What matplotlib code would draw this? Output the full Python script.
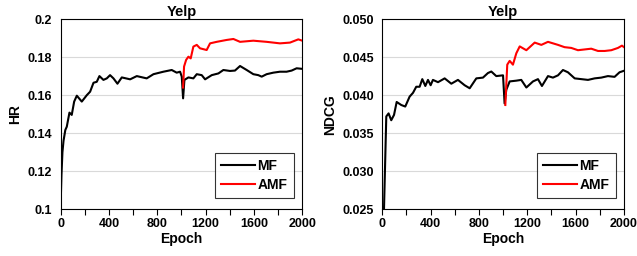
import matplotlib
matplotlib.use("Agg")
import matplotlib.pyplot as plt
from matplotlib.ticker import MultipleLocator

FONT = ['Liberation Sans', 'DejaVu Sans']
plt.rcParams['font.family'] = FONT
plt.rcParams['font.weight'] = 'bold'

# ---------------- data ----------------
hr_mf_epoch = [0, 8, 16, 25, 40, 52, 74, 93, 113, 135, 176, 218, 245, 273, 300, 322, 355, 383,
               410, 438, 471, 507, 576, 631, 713, 769, 851, 920, 961, 989, 1003, 1014, 1025,
               1058, 1099, 1127, 1168, 1196, 1251, 1306, 1347, 1402, 1443, 1485, 1540, 1595,
               1636, 1664, 1705, 1760, 1815, 1870, 1912, 1953, 2000]
hr_mf = [0.100, 0.118, 0.130, 0.136, 0.1417, 0.1434, 0.1508, 0.1496, 0.1566, 0.1597, 0.1566,
         0.1600, 0.1618, 0.1665, 0.1670, 0.1700, 0.1680, 0.1688, 0.1705, 0.1688, 0.1660,
         0.1693, 0.1683, 0.1700, 0.1688, 0.1710, 0.1723, 0.1732, 0.1718, 0.1723, 0.1697,
         0.1583, 0.1680, 0.1693, 0.1688, 0.1710, 0.1705, 0.1683, 0.1705, 0.1714, 0.1732,
         0.1727, 0.1729, 0.1753, 0.1732, 0.1710, 0.1705, 0.1697, 0.1710, 0.1718, 0.1723,
         0.1723, 0.1729, 0.1741, 0.1738]

hr_amf_epoch = [1014, 1022, 1039, 1058, 1077, 1099, 1127, 1154, 1209, 1237, 1292, 1375, 1430,
                1485, 1595, 1705, 1815, 1898, 1967, 2000]
hr_amf = [0.1640, 0.1750, 0.1785, 0.1802, 0.1793, 0.1855, 0.1864, 0.1846, 0.1837, 0.1872,
          0.1880, 0.1890, 0.1895, 0.1880, 0.1886, 0.1880, 0.1872, 0.1876, 0.1893, 0.1886]

nd_mf_epoch = [0, 14, 33, 52, 74, 97, 119, 157, 190, 226, 254, 281, 309, 331, 356, 378, 400,
               419, 461, 516, 571, 626, 681, 723, 778, 833, 874, 902, 943, 999, 1012, 1026,
               1054, 1109, 1150, 1192, 1247, 1288, 1321, 1371, 1412, 1454, 1495, 1536, 1592,
               1647, 1702, 1757, 1812, 1867, 1922, 1963, 2000]
nd_mf = [0.0250, 0.0250, 0.0372, 0.0376, 0.0367, 0.0374, 0.0391, 0.0387, 0.0385, 0.0398,
         0.0403, 0.0411, 0.0411, 0.0421, 0.0412, 0.0420, 0.0413, 0.0420, 0.0417, 0.0422,
         0.0415, 0.0420, 0.0413, 0.0409, 0.0422, 0.0423, 0.0429, 0.0431, 0.0425, 0.0426,
         0.0389, 0.0407, 0.0418, 0.0419, 0.0420, 0.0410, 0.0418, 0.0421, 0.0412, 0.0425,
         0.0423, 0.0426, 0.0433, 0.0430, 0.0422, 0.0421, 0.0420, 0.0422, 0.0423, 0.0425,
         0.0424, 0.0430, 0.0432]

nd_amf_epoch = [1018, 1034, 1054, 1081, 1109, 1137, 1192, 1261, 1316, 1371, 1454, 1508, 1564,
                1619, 1674, 1729, 1785, 1840, 1895, 1950, 1983, 2000]
nd_amf = [0.0387, 0.0440, 0.0445, 0.0440, 0.0455, 0.0464, 0.0459, 0.0469, 0.0466, 0.0470,
          0.0466, 0.0463, 0.0462, 0.0459, 0.0460, 0.0461, 0.0458, 0.0458, 0.0459, 0.0462,
          0.0465, 0.0463]

x_ticks = [0, 400, 800, 1200, 1600, 2000]
hr_ticks = [0.1, 0.12, 0.14, 0.16, 0.18, 0.2]
hr_labels = ['0.1', '0.12', '0.14', '0.16', '0.18', '0.2']
nd_ticks = [0.025, 0.030, 0.035, 0.040, 0.045, 0.050]
nd_labels = ['0.025', '0.030', '0.035', '0.040', '0.045', '0.050']

fig = plt.figure(figsize=(6.37, 2.56), dpi=100)
W, H = 637, 256
ax1 = fig.add_axes([60.5 / W, 1 - 209.3 / H, (302.3 - 60.5) / W, (209.3 - 19) / H])
ax2 = fig.add_axes([382.3 / W, 1 - 209.3 / H, (624 - 382.3) / W, (209.3 - 19) / H])


def style(ax, yt, yl, ylabel, lo, hi):
    ax.set_xlim(0, 2000)
    ax.set_ylim(lo, hi)
    ax.set_yticks(yt)
    ax.set_yticklabels(yl, fontweight='bold', fontsize=9)
    ax.set_xticks(x_ticks)
    ax.set_xticklabels([str(t) for t in x_ticks], fontweight='bold', fontsize=9)
    ax.xaxis.set_minor_locator(MultipleLocator(200))
    ax.tick_params(axis='x', which='both', direction='out', length=4, width=0.8, pad=2)
    ax.tick_params(axis='y', length=0, pad=6)
    ax.grid(axis='y', color='#d9d9d9', linewidth=0.8)
    ax.set_axisbelow(True)
    for s in ax.spines.values():
        s.set_color('black')
        s.set_linewidth(0.8)
    ax.set_title('Yelp', fontsize=10.5, fontweight='bold', pad=2)
    ax.set_xlabel('Epoch', fontsize=10, fontweight='bold', labelpad=2)
    ax.set_ylabel(ylabel, fontsize=10, fontweight='bold', labelpad=4)


ax1.plot(hr_mf_epoch, hr_mf, color='black', linewidth=1.5, label='MF', zorder=3)
ax1.plot(hr_amf_epoch, hr_amf, color='#ff0000', linewidth=1.5, label='AMF', zorder=4)
style(ax1, hr_ticks, hr_labels, 'HR', 0.1, 0.2)

ax2.plot(nd_mf_epoch, nd_mf, color='black', linewidth=1.5, label='MF', zorder=3)
ax2.plot(nd_amf_epoch, nd_amf, color='#ff0000', linewidth=1.5, label='AMF', zorder=4)
style(ax2, nd_ticks, nd_labels, 'NDCG', 0.025, 0.050)

for ax in (ax1, ax2):
    leg = ax.legend(loc='lower right', bbox_to_anchor=(0.965, 0.06), borderaxespad=0,
                    frameon=True, fancybox=False, edgecolor='black', handlelength=2.4,
                    handletextpad=0.2, borderpad=0.45, labelspacing=0.35,
                    prop={'family': FONT, 'weight': 'bold', 'size': 10})
    leg.get_frame().set_linewidth(0.8)

fig.savefig('out.png', dpi=100)
